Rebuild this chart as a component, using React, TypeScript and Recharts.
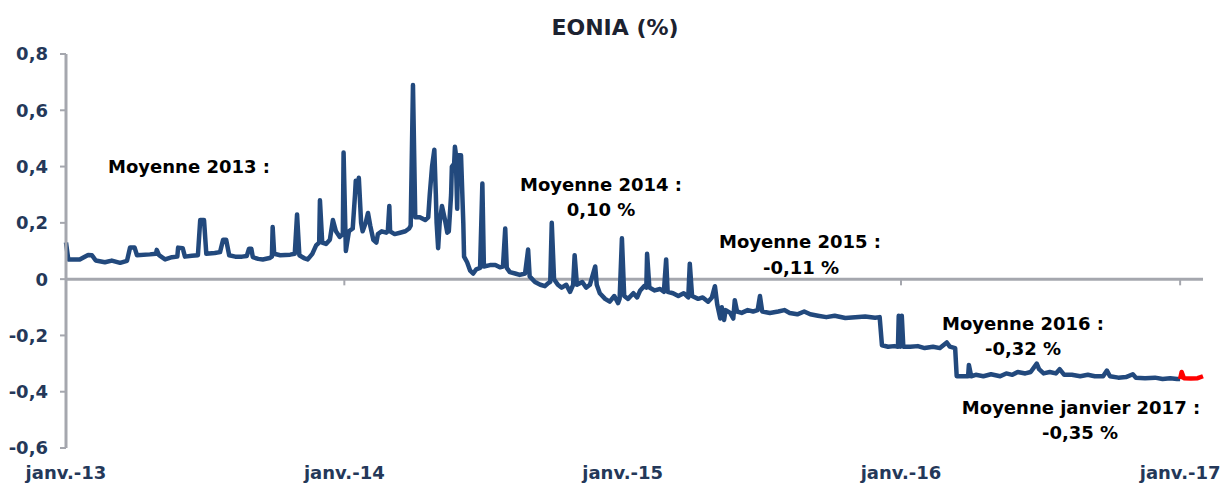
import React from 'react';
import { LineChart, Line, XAxis, YAxis, ReferenceLine } from 'recharts';

// Days since 2013-01-01 and EONIA values (%)
const blueDays = [
  0, 3, 18, 29, 34, 39, 51, 60, 71, 80, 84, 90, 93, 110, 118, 119, 122, 130, 139, 146, 147, 153, 156, 165, 173, 176,
  181, 184, 195, 202, 206, 210, 214, 222, 231, 237, 240, 243, 245, 252, 258, 267, 270, 271, 273, 281, 294, 300, 303,
  306, 312, 317, 323, 328, 332, 333, 336, 341, 346, 350, 354, 359, 363, 364, 367, 371, 376, 379, 380, 383, 384, 387,
  389, 393, 396, 399, 403, 407, 409, 414, 420, 422, 424, 425, 431, 438, 445, 450, 452, 455, 458, 464, 471, 475, 477,
  480, 483, 485, 486, 488, 490, 493, 497, 500, 502, 505, 506, 509, 510, 511, 513, 514, 518, 521, 522, 526, 530, 534,
  538, 543, 546, 548, 556, 563, 569, 573, 576, 578, 582, 589, 595, 602, 606, 608, 615, 622, 628, 632, 635, 637, 640,
  645, 650, 656, 661, 665, 667, 670, 677, 682, 687, 694, 696, 700, 707, 713, 719, 724, 726, 729, 732, 737, 744, 749,
  753, 758, 761, 762, 765, 772, 779, 784, 787, 789, 796, 803, 810, 816, 818, 821, 829, 835, 842, 847, 851, 854, 858,
  860, 863, 865, 871, 875, 877, 880, 886, 894, 901, 907, 910, 913, 923, 934, 942, 949, 959, 968, 976, 986, 997, 1008,
  1022, 1035, 1048, 1061, 1067, 1070, 1078, 1086, 1091, 1092, 1094, 1096, 1098, 1107, 1117, 1126, 1137, 1146, 1155,
  1159, 1166, 1168, 1176, 1183, 1184, 1187, 1193, 1203, 1213, 1225, 1233, 1241, 1248, 1258, 1265, 1273, 1276, 1282,
  1290, 1298, 1303, 1309, 1319, 1330, 1340, 1349, 1360, 1365, 1369, 1380, 1390, 1399, 1403, 1415, 1428, 1438, 1448,
  1457, 1461,
];

const blueValues = [
  0.13, 0.07, 0.07, 0.086, 0.085, 0.066, 0.06, 0.066, 0.058, 0.065, 0.112, 0.112, 0.085, 0.088, 0.09, 0.104, 0.085,
  0.07, 0.078, 0.08, 0.112, 0.11, 0.08, 0.083, 0.085, 0.21, 0.21, 0.09, 0.093, 0.096, 0.14, 0.14, 0.085, 0.08, 0.08,
  0.082, 0.108, 0.108, 0.078, 0.072, 0.07, 0.075, 0.08, 0.185, 0.09, 0.085, 0.087, 0.09, 0.23, 0.085, 0.075, 0.07,
  0.09, 0.12, 0.13, 0.28, 0.13, 0.125, 0.14, 0.21, 0.17, 0.15, 0.16, 0.45, 0.1, 0.17, 0.18, 0.3, 0.35, 0.34, 0.36,
  0.2, 0.17, 0.2, 0.235, 0.19, 0.14, 0.13, 0.16, 0.17, 0.165, 0.17, 0.26, 0.17, 0.16, 0.165, 0.17, 0.18, 0.19, 0.69,
  0.22, 0.22, 0.21, 0.22, 0.3, 0.4, 0.46, 0.3, 0.2, 0.11, 0.2, 0.26, 0.21, 0.165, 0.17, 0.3, 0.4, 0.41, 0.47, 0.45,
  0.25, 0.44, 0.44, 0.2, 0.08, 0.06, 0.03, 0.02, 0.035, 0.04, 0.34, 0.045, 0.05, 0.05, 0.042, 0.045, 0.18, 0.04,
  0.025, 0.02, 0.015, 0.02, 0.105, 0.01, -0.01, -0.02, -0.025, -0.015, -0.01, 0.2, 0.0, -0.02, -0.03, -0.02, -0.045,
  -0.02, 0.085, -0.02, -0.01, -0.03, -0.02, 0.045, -0.02, -0.05, -0.07, -0.08, -0.06, -0.085, -0.07, 0.145, -0.06,
  -0.07, -0.05, -0.065, -0.04, -0.025, -0.03, 0.09, -0.03, -0.04, -0.035, -0.045, 0.07, -0.045, -0.05, -0.06, -0.05,
  -0.065, 0.055, -0.06, -0.07, -0.065, -0.08, -0.065, -0.025, -0.09, -0.14, -0.1, -0.145, -0.11, -0.12, -0.14,
  -0.075, -0.115, -0.12, -0.11, -0.115, -0.11, -0.06, -0.115, -0.12, -0.115, -0.11, -0.12, -0.125, -0.115, -0.125,
  -0.13, -0.135, -0.13, -0.138, -0.135, -0.133, -0.137, -0.135, -0.235, -0.24, -0.238, -0.24, -0.13, -0.24, -0.13,
  -0.24, -0.24, -0.238, -0.245, -0.24, -0.245, -0.225, -0.24, -0.245, -0.345, -0.345, -0.345, -0.305, -0.345, -0.34,
  -0.345, -0.338, -0.345, -0.335, -0.34, -0.33, -0.335, -0.33, -0.3, -0.32, -0.335, -0.33, -0.335, -0.32, -0.34,
  -0.34, -0.345, -0.34, -0.345, -0.345, -0.325, -0.345, -0.35, -0.348, -0.338, -0.35, -0.352, -0.35, -0.355, -0.352,
  -0.355, -0.355,
];

// January 2017 (red)
const janDays = [1461, 1463, 1466, 1475, 1484, 1491];
const janValues = [-0.355, -0.33, -0.352, -0.353, -0.352, -0.345];

const tickDays = [0, 365, 730, 1095, 1461];
const tickLabels = ['janv.-13', 'janv.-14', 'janv.-15', 'janv.-16', 'janv.-17'];
const yTicks = [-0.6, -0.4, -0.2, 0, 0.2, 0.4, 0.6, 0.8];

const annotationLines = [
  'Moyenne 2013 :',
  'Moyenne 2014 :',
  '0,10 %',
  'Moyenne 2015 :',
  '-0,11 %',
  'Moyenne 2016 :',
  '-0,32 %',
  'Moyenne janvier 2017 :',
  '-0,35 %',
];

const blueData = blueDays.map((d, i) => ({ day: d, v: blueValues[i] }));
const janData = janDays.map((d, i) => ({ day: d, v: janValues[i] }));

const FONT = "'DejaVu Sans', 'Liberation Sans', sans-serif";
const AXIS_TEXT = '#243859';
const GRAY = '#a5a7ae';

const fmtY = (v: number) => (v === 0 ? '0' : v.toFixed(1).replace('.', ','));
const fmtX = (v: number) => {
  const i = tickDays.indexOf(v);
  return i >= 0 ? tickLabels[i] : '';
};

const annPos = [
  { x: 189, y: 166 },
  { x: 601, y: 184 },
  { x: 601, y: 209 },
  { x: 800, y: 241 },
  { x: 801, y: 267 },
  { x: 1023, y: 323 },
  { x: 1023, y: 348 },
  { x: 1081, y: 407 },
  { x: 1080, y: 432 },
];

export default function App() {
  return (
    <div style={{ position: 'absolute', left: 0, top: 0, width: 1222, height: 486, background: '#fff', overflow: 'hidden' }}>
      <LineChart width={1222} height={486} margin={{ top: 54, right: 19, bottom: 0, left: 0 }}>
        <XAxis
          type="number"
          dataKey="day"
          domain={[0, 1491]}
          ticks={tickDays}
          tickFormatter={fmtX}
          interval={0}
          axisLine={false}
          tickLine={false}
          tickMargin={12}
          height={38}
          tick={{ fill: AXIS_TEXT, fontSize: 18, fontWeight: 'bold', fontFamily: FONT }}
        />
        <YAxis
          type="number"
          domain={[-0.6, 0.8]}
          ticks={yTicks}
          tickFormatter={fmtY}
          interval={0}
          width={66}
          tickSize={6}
          tickMargin={12}
          axisLine={{ stroke: GRAY, strokeWidth: 3 }}
          tickLine={{ stroke: GRAY, strokeWidth: 2 }}
          tick={{ fill: AXIS_TEXT, fontSize: 18, fontWeight: 'bold', fontFamily: FONT }}
        />
        <ReferenceLine y={0} stroke={GRAY} strokeWidth={3} />
        {tickDays.map((d) => (
          <ReferenceLine
            key={d}
            segment={[{ x: d, y: 0 }, { x: d, y: -0.022 }]}
            stroke={GRAY}
            strokeWidth={2}
          />
        ))}
        <Line
          data={blueData}
          dataKey="v"
          type="linear"
          stroke="#22497d"
          strokeWidth={4.5}
          strokeLinejoin="round"
          dot={false}
          activeDot={false}
          isAnimationActive={false}
        />
        <Line
          data={janData}
          dataKey="v"
          type="linear"
          stroke="#ff0000"
          strokeWidth={4.5}
          strokeLinejoin="round"
          dot={false}
          activeDot={false}
          isAnimationActive={false}
        />
      </LineChart>
      <div
        style={{
          position: 'absolute',
          left: 615,
          top: 27,
          transform: 'translate(-50%, -50%)',
          fontFamily: FONT,
          fontWeight: 'bold',
          fontSize: 22,
          color: '#1c2230',
          whiteSpace: 'nowrap',
        }}
      >
        EONIA (%)
      </div>
      {annotationLines.map((t, i) => (
        <div
          key={i}
          style={{
            position: 'absolute',
            left: annPos[i].x,
            top: annPos[i].y,
            transform: 'translate(-50%, -50%)',
            fontFamily: FONT,
            fontWeight: 'bold',
            fontSize: 18,
            color: '#000',
            whiteSpace: 'nowrap',
          }}
        >
          {t}
        </div>
      ))}
    </div>
  );
}
